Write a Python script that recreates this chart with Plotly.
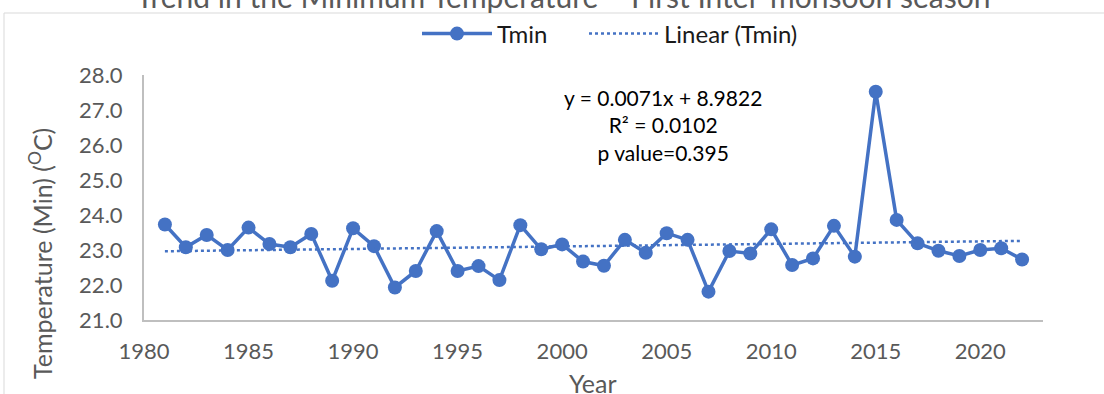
import numpy as np
import plotly.graph_objects as go

years = list(range(1981, 2023))
tmin = [23.73, 23.08, 23.43, 23.00, 23.64, 23.17, 23.08, 23.46, 22.12, 23.62,
        23.11, 21.93, 22.40, 23.54, 22.40, 22.54, 22.14, 23.71, 23.02, 23.16,
        22.67, 22.55, 23.29, 22.92, 23.48, 23.29, 21.81, 22.97, 22.90, 23.59,
        22.57, 22.76, 23.69, 22.81, 27.52, 23.86, 23.19, 22.98, 22.83, 23.00,
        23.05, 22.73]

x_ticks = [1980, 1985, 1990, 1995, 2000, 2005, 2010, 2015, 2020]
y_ticks = [21, 22, 23, 24, 25, 26, 27, 28]

title_text = "Trend in the Minimum Temperature \u2013 First Inter-monsoon season"
eq_text = "y = 0.0071x + 8.9822<br>R\u00b2 = 0.0102<br>p value=0.395"
x_title = "Year"
y_title = "Temperature (Min) (<sup>O</sup>C)"

# linear trend fitted from the series
coef = np.polyfit(years, tmin, 1)
trend = np.polyval(coef, years)

BLUE = "#4472C4"
GRAY = "#595959"
FONT = "Lato, Carlito, sans-serif"

fig = go.Figure()
fig.add_trace(go.Scatter(
    x=years, y=tmin, mode="lines+markers", name="Tmin",
    line=dict(color=BLUE, width=3.5),
    marker=dict(color=BLUE, size=14),
    legend="legend",
))
fig.add_trace(go.Scatter(
    x=years, y=trend, mode="lines", name="Linear (Tmin)",
    line=dict(color=BLUE, width=2.5, dash="dot"),
    legend="legend2",
))

L, R, T, B = 144, 61, 75, 74
W, H = 1104, 394
pw, ph = W - L - R, H - T - B

def px(xp):
    return (xp - L) / pw

def py(yp):
    return (H - B - yp) / ph

legend_style = dict(orientation="h", y=py(34), xanchor="left", yanchor="middle",
                    itemwidth=70, font=dict(size=24, color="#1a1a1a"),
                    bgcolor="rgba(0,0,0,0)")

fig.update_layout(
    width=W, height=H,
    margin=dict(l=L, r=R, t=T, b=B, autoexpand=False),
    paper_bgcolor="white", plot_bgcolor="white",
    font=dict(family=FONT, color=GRAY, size=17),
    showlegend=True,
    legend=dict(x=px(417), **legend_style),
    legend2=dict(x=px(584), **legend_style),
    xaxis=dict(range=[1980, 2023], tickmode="array", tickvals=x_ticks,
               ticktext=[str(v) for v in x_ticks],
               showgrid=False, zeroline=False, showline=True, linecolor="#bfbfbf", linewidth=2,
               ticks="outside", ticklen=11, tickcolor="rgba(0,0,0,0)",
               tickfont=dict(size=22, color=GRAY)),
    yaxis=dict(range=[21, 28], tickmode="array", tickvals=y_ticks,
               ticktext=[f"{v:.1f}" for v in y_ticks],
               showgrid=False, zeroline=False, showline=True, linecolor="#bfbfbf", linewidth=2,
               ticks="outside", ticklen=15, tickcolor="rgba(0,0,0,0)",
               tickfont=dict(size=22, color=GRAY)),
    shapes=[dict(type="rect", xref="paper", yref="paper",
                 x0=px(4), x1=px(1110), y0=py(400), y1=py(13),
                 line=dict(color="#d9d9d9", width=1), fillcolor="rgba(0,0,0,0)", layer="below")],
    annotations=[
        dict(text=title_text, xref="paper", yref="paper", x=px(563), y=py(-4),
             xanchor="center", yanchor="middle", showarrow=False,
             font=dict(size=30, color=GRAY)),
        dict(text=eq_text, xref="paper", yref="paper", x=px(663), y=py(125),
             xanchor="center", yanchor="middle", showarrow=False, align="center",
             font=dict(size=21, color="black")),
        dict(text=x_title, xref="paper", yref="paper", x=px(593), y=py(383),
             xanchor="center", yanchor="middle", showarrow=False,
             font=dict(size=25, color=GRAY)),
        dict(text=y_title, xref="paper", yref="paper", x=px(40), y=py(254),
             xanchor="center", yanchor="middle", showarrow=False, textangle=-90,
             font=dict(size=25, color=GRAY)),
    ],
)

fig.write_html("out.html", config={"displayModeBar": False},
               post_script="document.body.style.margin='0';")
